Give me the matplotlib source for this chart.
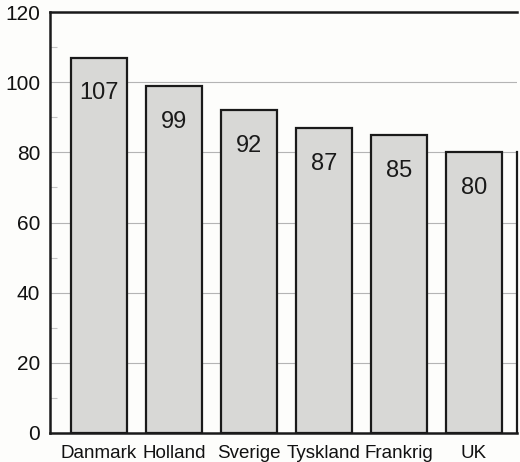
import matplotlib.pyplot as plt
import numpy as np

plt.rcParams['font.family'] = ['Liberation Sans', 'DejaVu Sans']

lande = ['Danmark', 'Holland', 'Sverige', 'Tyskland', 'Frankrig', 'UK']
vaerdier = [107, 99, 92, 87, 85, 80]
yticks = [0, 20, 40, 60, 80, 100, 120]

fig = plt.figure(figsize=(5.2, 4.62), dpi=100)
fig.patch.set_facecolor('#fdfdfb')
ax = fig.add_axes([50/520, 29/462, 467/520, 421/462])
ax.set_facecolor('#fdfdfb')

x = np.arange(len(lande))
bars = ax.bar(x, vaerdier, width=0.747, color='#d8d8d6', edgecolor='#1a1a1a',
              linewidth=1.6, zorder=3)

for xi, v in zip(x, vaerdier):
    ax.annotate(str(v), (xi, v), xytext=(0, -24), textcoords='offset points',
                ha='center', va='center_baseline', fontsize=17, color='#1a1a1a', zorder=4)

ax.set_xlim(-0.653, 5.573)
ax.set_ylim(0, 120)
ax.set_yticks(yticks)
ax.set_yticklabels([str(t) for t in yticks], fontsize=15, color='#111111')
ax.set_yticks(np.arange(10, 120, 20), minor=True)
ax.yaxis.grid(True, which='major', color='#b4b4b4', linewidth=0.8, zorder=0)
ax.tick_params(axis='y', which='major', length=0, pad=7)
ax.tick_params(axis='y', which='minor', direction='in', length=5, color='#c4c4c4', width=0.8)

ax.set_xticks(x)
ax.set_xticklabels(lande, fontsize=13.5, color='#111111')
ax.tick_params(axis='x', length=0, pad=9)

for side in ['left', 'top', 'bottom']:
    ax.spines[side].set_color('#1a1a1a')
    ax.spines[side].set_linewidth(1.8)
ax.spines['right'].set_color('#1a1a1a')
ax.spines['right'].set_linewidth(1.6)
ax.spines['right'].set_bounds(0, 80)

fig.savefig('out.png', dpi=100, facecolor=fig.get_facecolor())
